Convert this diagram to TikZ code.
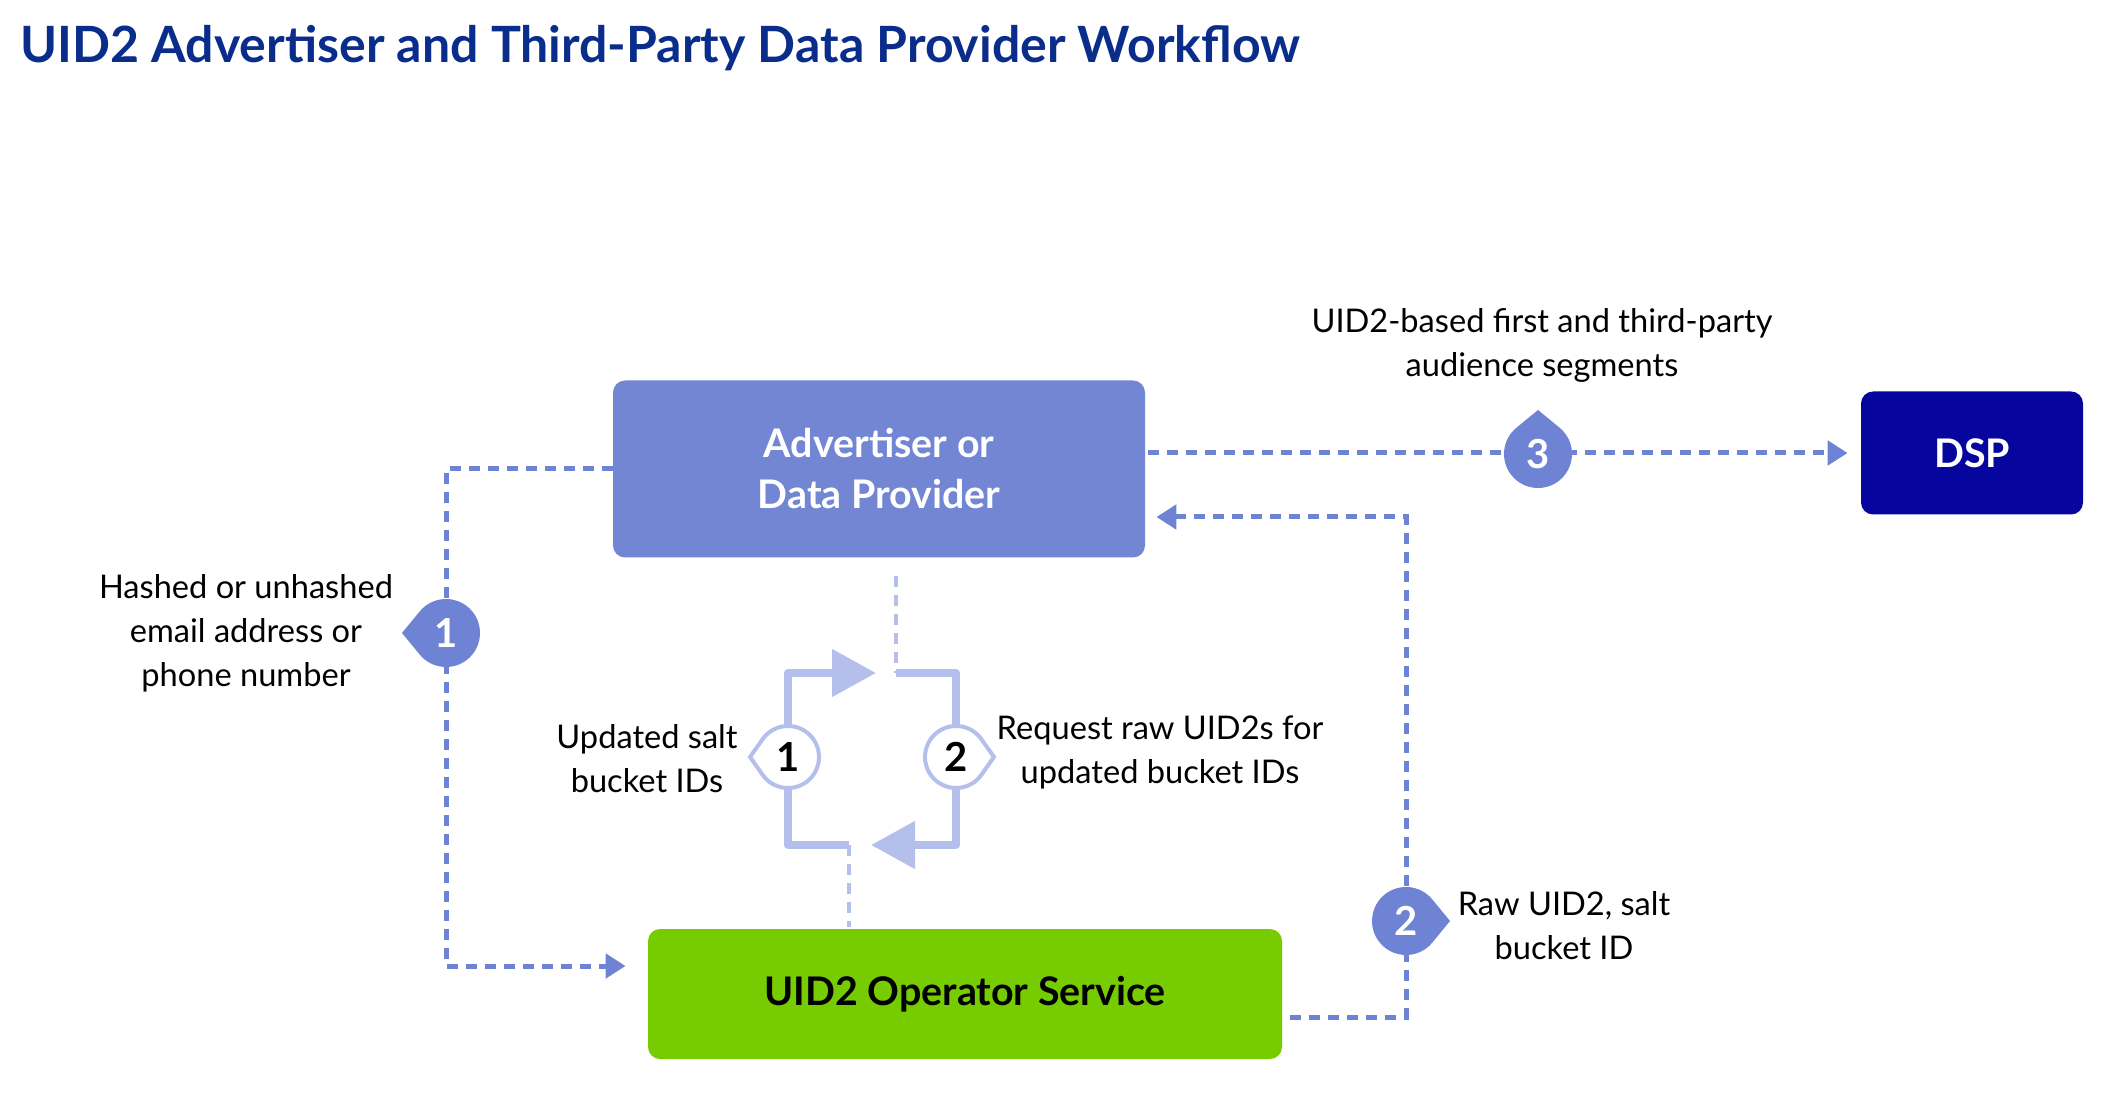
\documentclass[tikz,border=0pt]{standalone}
\usepackage{fontspec}
\setmainfont{Lato}
\usetikzlibrary{arrows.meta,calc,backgrounds}

\definecolor{titleblue}{RGB}{10,45,140}
\definecolor{advblue}{RGB}{114,134,212}
\definecolor{flowblue}{RGB}{110,131,211}
\definecolor{loopblue}{RGB}{180,192,235}
\definecolor{dspnavy}{RGB}{6,6,158}
\definecolor{opgreen}{RGB}{118,204,0}

% drop shaped badge: node, direction, radius, tip distance, style
\newcommand\badgedrop[5]{%
  \pgfmathsetmacro\dropang{acos(#3/#4)}
  \path[#5] (#1.center) ++({#2+\dropang}:#3pt)
    arc[start angle={#2+\dropang}, end angle={#2+360-\dropang}, radius=#3pt]
    -- ($(#1.center)+(#2:#4pt)$) -- cycle;}

\tikzset{
  box/.style={rounded corners=6pt, align=center, inner sep=0pt,
    font=\fontsize{19.7}{25.5}\selectfont\bfseries},
  note/.style={align=center, inner sep=0pt, font=\fontsize{16.3}{22}\selectfont},
  badge/.style={circle, minimum size=34pt, inner sep=0pt, text=white,
    font=\fontsize{20}{20}\selectfont\bfseries},
  ring/.style={circle, minimum size=33pt, inner sep=0pt,
    font=\fontsize{20}{20}\selectfont\bfseries},
  flow/.style={draw=flowblue, line width=2.5pt, dash pattern=on 5.5pt off 4pt,
    -{Triangle[length=10pt,width=12pt]}},
  faint/.style={draw=loopblue, line width=2pt, dash pattern=on 5.5pt off 4pt},
  loopline/.style={draw=loopblue, line width=4pt, line join=round},
  bigtip/.style={-{Triangle[length=22pt,width=23pt]}}
}

\begin{document}
\begin{tikzpicture}[x=0.5pt,y=-0.5pt]
\useasboundingbox (0,0) rectangle (2112,1095);

\node[anchor=base west, inner sep=0pt, text=titleblue,
  font=\fontsize{25}{25}\selectfont\bfseries] (title) at (20,63)
  {UID2 Advertiser and Third-Party Data Provider Workflow};

% boxes
\node[box, fill=advblue, text=white, minimum width=266pt, minimum height=88.5pt]
  (adv) at (879,469) {Advertiser or\\Data Provider};
\node[box, fill=dspnavy, text=white, minimum width=111pt, minimum height=61.5pt]
  (dsp) at (1972,453) {DSP};
\node[box, fill=opgreen, text=black, minimum width=317pt, minimum height=65pt]
  (op) at (965,994) {UID2 Operator Service};

% numbered steps
\node[badge] (b1) at (446,633) {1};
\node[badge] (b2) at (1406,921) {2};
\node[badge] (b3) at (1538,454) {3};
\node[ring] (c1) at (788,757) {1};
\node[ring] (c2) at (956,757) {2};

% texts
\node[note] (n1) at (246,633) {Hashed or unhashed\\email address or\\phone number};
\node[note] (n2) at (1564,926) {Raw UID2, salt\\bucket ID};
\node[note] (n3) at (1542,345) {UID2-based first and third-party\\audience segments};
\node[note] (m1) at (647,759) {Updated salt\\bucket IDs};
\node[note] (m2) at (1160,752) {Request raw UID2s for\\updated bucket IDs};

\coordinate (jtop) at (896,673);
\coordinate (ttop) at (876,673);
\coordinate (jbot) at (849,845);
\coordinate (tbot) at (871,845);

\begin{scope}[on background layer]
% dashed flows
\draw[flow, shorten >=11pt] (adv.west) -| (b1.center) |- ([yshift=14pt]op.west);
\draw[flow, shorten >=6.5pt, shorten <=1.5pt] (adv.east |- dsp.west) -- (dsp.west);
\draw[flow, shorten >=5.5pt, shorten <=4pt] ([yshift=-11.5pt]op.east) -| (b2.center)
  |- ([yshift=-24pt]adv.east);
% refresh loop
\draw[faint, shorten <=9pt] (adv.south -| jtop) -- (jtop);
\draw[faint, shorten >=1pt] (jbot) -- (op.north -| jbot);
\draw[loopline, bigtip] (c1.north) |- (ttop);
\draw[loopline] (jtop) -| (c2.north);
\draw[loopline, bigtip] (c2.south) |- (tbot);
\draw[loopline] (jbot) -| (c1.south);
% badges
\badgedrop{b1}{180}{17}{22}{fill=flowblue}
\badgedrop{b2}{0}{17}{22}{fill=flowblue}
\badgedrop{b3}{90}{17}{22}{fill=flowblue}
\badgedrop{c1}{180}{15.5}{19}{fill=white, draw=loopblue, line width=2pt}
\badgedrop{c2}{0}{15.5}{19}{fill=white, draw=loopblue, line width=2pt}
\end{scope}
\end{tikzpicture}
\end{document}
